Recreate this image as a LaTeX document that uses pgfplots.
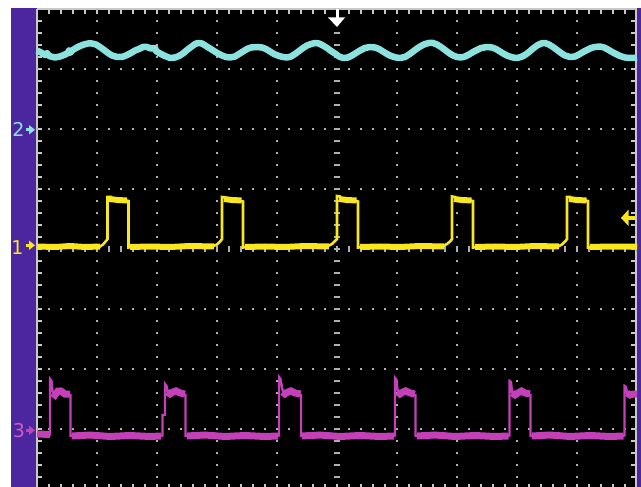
\documentclass[border=0pt]{standalone}
\usepackage{pgfplots}
\pgfplotsset{compat=1.18}
\usepackage{fontspec}
\newfontfamily\dejavu{DejaVu Sans}
\definecolor{scopecyan}{RGB}{140,226,222}
\definecolor{scopeyellow}{RGB}{248,230,30}
\definecolor{scopemag}{RGB}{196,64,184}
\definecolor{scopepurple}{RGB}{76,38,158}
\definecolor{gridgrey}{RGB}{175,175,175}
\definecolor{framegrey}{RGB}{200,200,200}
\begin{document}
\begin{tikzpicture}
\begin{axis}[hide axis, scale only axis, width=641pt, height=487pt,
  xmin=0, xmax=641, ymin=0, ymax=487, y dir=reverse, clip=true,
  unbounded coords=jump]
% background
\fill[white] (axis cs:0,0) rectangle (axis cs:641,487);
\fill[scopepurple] (axis cs:11,8) rectangle (axis cs:37,487);
\fill[scopepurple] (axis cs:636,8) rectangle (axis cs:641,487);
\fill[black] (axis cs:37,9) rectangle (axis cs:636.5,489);
% frame
\draw[framegrey, line width=2pt] (axis cs:37,9) -- (axis cs:636.5,9);
\draw[framegrey, line width=1.6pt] (axis cs:37,9) -- (axis cs:37,489);
\draw[framegrey, line width=1.6pt] (axis cs:636,9) -- (axis cs:636,489);
% frame ticks
\draw[framegrey, line width=5pt, dash pattern=on 1.5pt off 10.5pt, dash phase=0.75pt] (axis cs:37,11.5) -- (axis cs:637,11.5);
\draw[framegrey, line width=5pt, dash pattern=on 1.5pt off 10.5pt, dash phase=0.75pt] (axis cs:37,486.5) -- (axis cs:637,486.5);
\draw[framegrey, line width=5pt, dash pattern=on 1.5pt off 10.5pt, dash phase=0.75pt] (axis cs:39.5,9) -- (axis cs:39.5,489);
\draw[framegrey, line width=5pt, dash pattern=on 1.5pt off 10.5pt, dash phase=0.75pt] (axis cs:633.5,9) -- (axis cs:633.5,489);
% dotted grid
\pgfplotsinvokeforeach{69,129,189,309,369,429}{
  \draw[gridgrey, line width=2pt, dash pattern=on 2pt off 10pt, dash phase=1pt] (axis cs:37,#1) -- (axis cs:637,#1);
}
\pgfplotsinvokeforeach{97,157,217,277,397,457,517,577}{
  \draw[gridgrey, line width=2pt, dash pattern=on 2pt off 10pt, dash phase=1pt] (axis cs:#1,9) -- (axis cs:#1,489);
}
% centre lines with minor ticks
\draw[gridgrey, line width=6pt, dash pattern=on 2pt off 10pt, dash phase=1pt] (axis cs:37,249) -- (axis cs:637,249);
\draw[gridgrey, line width=6pt, dash pattern=on 2pt off 10pt, dash phase=1pt] (axis cs:337,9) -- (axis cs:337,489);

% channel 2 (cyan)
\addplot[scopecyan, line width=6.5pt, line join=round] coordinates {
(37,50.5)(41,52.5)(45,55)(47,53)(49,56)(55,57.5)(60,56.5)(64,55)(68,53)(69,50.5)(70,53)(72,50.5)
(76,48)(80,46)(84,44.5)(88,43.5)(92,43.5)(96,44.5)(100,47)(104,50)(108,53)(112,55.5)(117,57)
(122,57)(126,55.5)(131,53)(135,50.5)(139,49)(143,47)(147,47)(151,48.5)(155,48)(156,51)(160,53.5)(165,56)
(170,58)(175,57.5)(179,56)(183,53.5)(187,50)(191,47)(195,44)(198,43)(202,43.5)(206,46)(210,48.5)
(214,51)(218,53.5)(222,55.5)(226,57)(230,57.5)(235,56.5)(239,54)(243,51.5)(247,49)(251,47.5)
(257,47)(262,47.5)(266,49)(270,51.5)(274,54)(279,56)(283,57)(287,57.5)(291,56.5)(295,54)
(299,51)(303,48)(307,45.5)(311,44)(315,43)(319,43.5)(323,45.5)(327,48)(331,51)(335,53.5)
(339,56.5)(343,58)(348,57.5)(352,55.5)(356,53)(360,50.5)(365,48)(370,47)(375,47.5)(379,49)
(383,51.5)(387,54)(391,56)(396,57.5)(400,58)(405,57)(409,54.5)(413,51.5)(417,48.5)(421,46)
(425,44)(429,43)(433,43)(437,44.5)(441,47)(445,50)(449,53)(453,55.5)(457,57)(461,57.5)
(465,56.5)(469,54.5)(473,52)(477,50)(481,48)(487,47)(492,47.5)(496,49)(500,51.5)(504,54)
(508,56)(513,57.5)(517,58)(521,57)(525,55)(529,52)(533,48.5)(537,45.5)(541,43.5)(545,43)
(549,44.5)(553,47)(557,50)(561,53)(565,55.5)(570,57)(575,56.5)(579,54.5)(583,52)(587,50)
(591,48)(595,47)(600,46.5)(604,47.5)(608,49.5)(612,52)(616,54)(620,56)(625,57.5)(629,58)
(633,58)(637,57.5)
};

% channel 1 (yellow) - thin full trace
\addplot[scopeyellow, line width=2.6pt] coordinates {
(37,246.5)(50,247)(62,245.5)(75,247)(88,246)(100,246.5)(103,244.5)(106,241)(107.5,239)
(107.5,197)(111,197)(112,199.5)(120,200)(126,200.5)(128.5,201)(128.5,247.5)
(140,246)(155,247)(170,246.5)(185,247.5)(200,246)(212,246.5)(217,244.5)(220.5,241)(222,239)
(222,197)(225,197.5)(226,199)(233,200)(238,199)(241,201)(243,201.5)(243,247.5)
(258,246)(272,247)(287,246.5)(300,247.5)(315,246.5)(328,246)(332,244)(335.5,240.5)(337,239)
(337,196)(340,196.5)(341,199.5)(350,200)(356,201)(358,201.5)(358,247.5)
(372,246.5)(388,247)(402,246)(418,247.5)(432,246.5)(443,246)(447,244)(450.5,241)(452,239)
(452,196.5)(455,197)(456,199.5)(464,200)(470,200.5)(473,201)(473,247.5)
(487,246.5)(502,247)(516,246)(530,247)(545,246.5)(558,246.5)(562,244.5)(565.5,241)(567,239)
(567,197)(570,197)(571,199.5)(578,200)(585,200.5)(588,201)(588,247.5)
(600,246.5)(612,247)(625,246)(637,246.5)
};
% channel 1 (yellow) - noisy flat levels
\addplot[scopeyellow, line width=6pt] coordinates {
(37,246.5)(55,247)(70,246)(85,247)(100,246.5)
(101,nan)
(109,199)(118,200)(127,200.5)
(128,nan)
(130,247)(150,246.5)(170,247)(190,246)(214,246.5)
(215,nan)
(224,199)(232,200)(241.5,200.5)
(242,nan)
(245,247)(265,246.5)(285,247)(305,246)(329,246.5)
(330,nan)
(339,199)(347,200)(356.5,200.5)
(357,nan)
(360,247)(380,246.5)(400,247)(420,246)(444,246.5)
(445,nan)
(454,199)(462,200)(471.5,200.5)
(472,nan)
(475,247)(495,246.5)(515,247)(535,246)(559,246.5)
(560,nan)
(569,199)(577,200)(586.5,200.5)
(587,nan)
(590,247)(610,246.5)(637,246.5)
};

% channel 3 (magenta) - thin full trace
\addplot[scopemag, line width=2.4pt] coordinates {
(37,433.5)(44,434)(50,434.5)
(50,379)(51.5,381)(52.5,391)(54,394)(56,395)(58,390)(60,389)(62,392)(65,394)(68,394.5)(70.5,395)(70.5,436)
(85,435.5)(100,436.5)(115,435)(130,436)(145,435.5)(160,436)(162.5,435.5)
(162.5,415)(165,415)(165,384)(166.5,386)(167.5,391)(169,394)(171,395)(173,391)(175,389)(177,391)(180,393)(183,394)(185.5,395)(185.5,436)
(200,435.5)(215,436.5)(230,435)(245,436)(260,435.5)(275,436)(279,435.5)
(279,377)(280.5,379)(282.5,390)(284,393)(286,395)(288,392)(290,389)(292,391)(295,393)(298,394)(301,395)(301,436)
(315,435.5)(330,436.5)(345,435)(360,436)(375,435.5)(390,436)(395,435.5)
(395,378)(396.5,380)(397.5,390)(399,393)(401,395)(403,392)(405,389)(407,391)(410,393)(413,394)(415.5,395)(415.5,436)
(430,435.5)(445,436.5)(460,435)(475,436)(490,435.5)(505,436)(509.5,435.5)
(509.5,381)(511,382)(512,392)(514,395)(516.5,396)(519,392)(521.5,389.5)(524,392)(527,393)(529,394.5)(530.5,395)(530.5,436)
(545,435.5)(560,436.5)(575,435)(590,436)(605,435.5)(620,436)(624.5,435.5)
(624.5,386)(626,387)(627,393)(630,396)(633,393)(637,393)
};
% channel 3 (magenta) - noisy flat levels
\addplot[scopemag, line width=7pt] coordinates {
(37,434)(50,434.5)
(50.5,nan)
(52.5,393)(55,395)(58,391)(61,391)(65,394)(70,394)
(70.2,nan)
(72,436)(90,435)(110,436.5)(130,435.5)(150,436.5)(161,436)
(162,nan)
(167,392)(170,394)(173,392)(176,391)(180,393)(185,394)
(185.2,nan)
(187,436)(205,435)(225,436.5)(245,435.5)(265,436.5)(278,436)
(278.5,nan)
(282.5,392)(285,394)(288,392)(291,391)(295,393)(300.5,394)
(300.7,nan)
(302,436)(320,435)(340,436.5)(360,435.5)(380,436.5)(394,436)
(394.5,nan)
(397.5,392)(400,394)(403,392)(406,391)(410,393)(415,394)
(415.2,nan)
(417,436)(435,435)(455,436.5)(475,435.5)(495,436.5)(508.5,436)
(509,nan)
(512,393)(515,395)(518,393)(521.5,391)(525,393)(530,394)
(530.2,nan)
(532,436)(550,435)(570,436.5)(590,435.5)(610,436.5)(623.5,436)
(624,nan)
(627,393)(630,395)(633,394)(637,394)
};

% trigger position marker (top)
\fill[white] (axis cs:336,9) rectangle (axis cs:338.5,18);
\fill[white] (axis cs:328,17.5) -- (axis cs:345,17.5) -- (axis cs:337,27) -- cycle;
% trigger level marker (right)
\fill[scopeyellow] (axis cs:621,218) -- (axis cs:628.5,209.5) -- (axis cs:628.5,226) -- cycle;
\fill[scopeyellow] (axis cs:628,216) rectangle (axis cs:635,220);
% channel markers (left)
\node[inner sep=0pt, anchor=center, text=scopecyan, font=\dejavu\fontsize{19}{19}\selectfont] at (axis cs:18.5,129.5) {2};
\fill[scopecyan] (axis cs:25.5,128.5) rectangle (axis cs:30,131);
\fill[scopecyan] (axis cs:29,125) -- (axis cs:35,129.8) -- (axis cs:29,134.5) -- cycle;
\node[inner sep=0pt, anchor=center, text=scopeyellow, font=\dejavu\fontsize{19}{19}\selectfont] at (axis cs:17.5,247.5) {1};
\fill[scopeyellow] (axis cs:25.5,244) rectangle (axis cs:30,246.5);
\fill[scopeyellow] (axis cs:29,240.5) -- (axis cs:35,245.3) -- (axis cs:29,250) -- cycle;
\node[inner sep=0pt, anchor=center, text=scopemag!85!white, font=\dejavu\fontsize{19}{19}\selectfont] at (axis cs:19,430.5) {3};
\fill[scopemag] (axis cs:25.5,429) rectangle (axis cs:30,431.5);
\fill[scopemag] (axis cs:29,425.5) -- (axis cs:35,430.3) -- (axis cs:29,435) -- cycle;
\end{axis}
\end{tikzpicture}
\end{document}
